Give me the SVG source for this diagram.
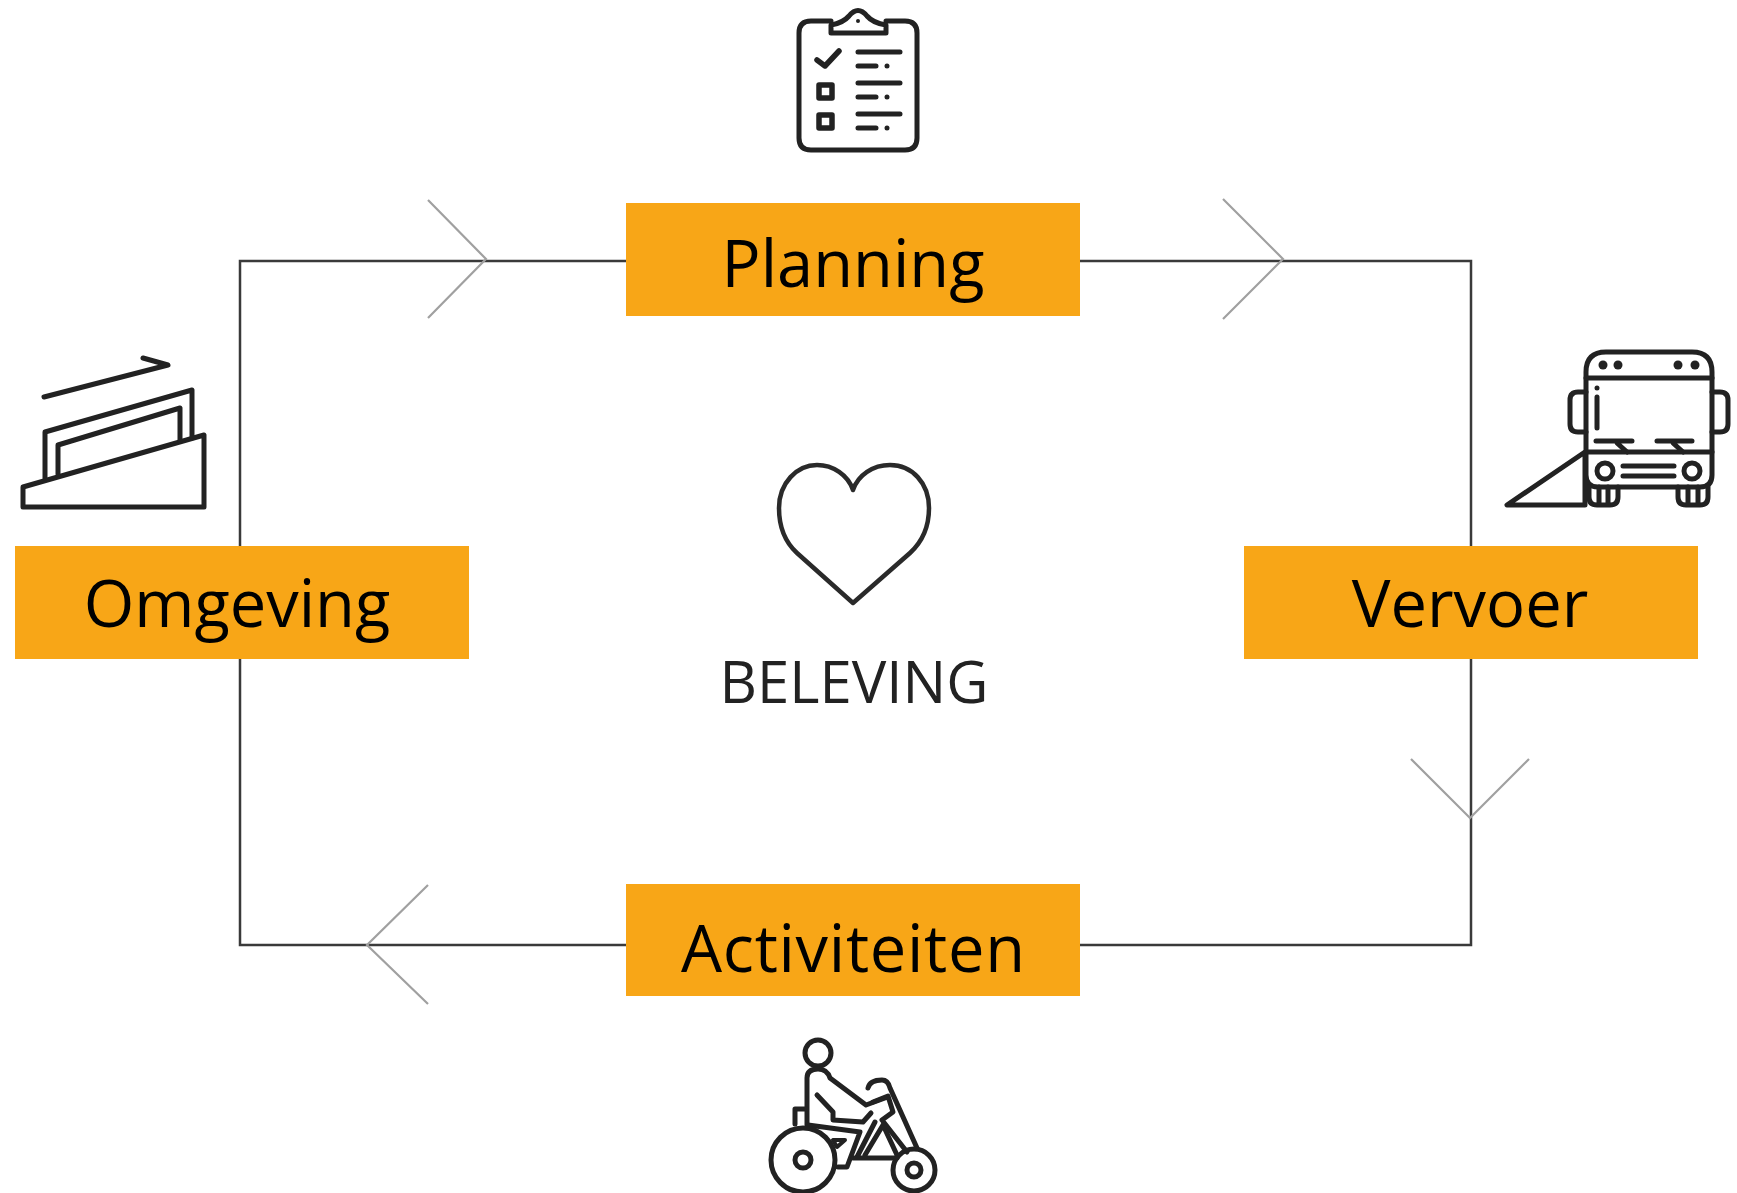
<svg xmlns="http://www.w3.org/2000/svg" width="1737" height="1193" viewBox="0 0 1737 1193">
<style>
.box{fill:#f8a617}
.lbl{font-family:"Open Sans","Noto Sans","Liberation Sans",sans-serif;font-size:65px;fill:#000;text-anchor:middle}
.conn{fill:none;stroke:#3a3a3a;stroke-width:2.5}
.head{fill:none;stroke:#a0a0a0;stroke-width:2.2}
.ic{fill:none;stroke:#222;stroke-width:5;stroke-linecap:round;stroke-linejoin:round}
.dot{fill:#222}
</style>
<rect width="1737" height="1193" fill="#fff"/>
<g id="connectors">
<path class="conn" d="M240 546V261H1471V945H240V659"/>
<path class="head" d="M428 200L486 259L428 318"/>
<path class="head" d="M1223 199L1283 259L1223 319"/>
<path class="head" d="M1411 759L1470 818L1529 759"/>
<path class="head" d="M428 885L367 945L428 1004"/>
</g>
<g id="planning">
<rect class="box" x="626" y="203" width="454" height="113"/>
<text class="lbl" x="853" y="287">Planning</text>
<g class="ic">
<path d="M831 21H811Q799 21 799 33V138Q799 150 811 150H905Q917 150 917 138V33Q917 21 905 21H886"/>
<path d="M831 33H886V25Q873 23 867 16Q858 5 849 16Q843 23 831 25Z"/>
<path d="M817 60L825 66L839 51" stroke-width="5.5"/>
<path d="M858 52H900M858 66H876M858 83H900M858 97H876M858 114H900M858 128H876" stroke-width="5"/>
<rect x="819" y="85" width="13" height="13" stroke-width="5.5"/>
<rect x="819" y="115" width="13" height="13" stroke-width="5.5"/>
</g>
<circle class="dot" cx="887" cy="66" r="2.5"/><circle class="dot" cx="887" cy="97" r="2.5"/><circle class="dot" cx="887" cy="128" r="2.5"/><circle class="dot" cx="858" cy="21" r="2"/>
</g>
<g id="omgeving">
<rect class="box" x="15" y="546" width="454" height="113"/>
<text class="lbl" x="237" y="627">Omgeving</text>
<g class="ic">
<path d="M44 397L168 365L143 358"/>
<path d="M23 487L204 435V507H23Z"/>
<path d="M45 478V432L192 390V438"/>
<path d="M58 474V445L180 408V441"/>
</g>
</g>
<g id="vervoer">
<rect class="box" x="1244" y="546" width="454" height="113"/>
<text class="lbl" x="1470" y="627">Vervoer</text>
<g class="ic">
<path d="M1586 372Q1586 352 1606 352H1692Q1712 352 1712 372V475Q1712 487 1700 487H1598Q1586 487 1586 475Z"/>
<path d="M1586 378H1712M1586 452H1712"/>
<path d="M1586 392H1578Q1570 392 1570 400V424Q1570 432 1578 432H1586M1712 392H1720Q1728 392 1728 400V424Q1728 432 1720 432H1712"/>
<path d="M1597 397V428"/>
<path d="M1596 441H1632M1617 443L1627 452M1657 441H1692M1673 443L1683 452"/>
<circle cx="1605" cy="471" r="8"/><circle cx="1692" cy="471" r="8"/>
<path d="M1623 466H1674M1623 476H1674"/>
<path d="M1589 487V497Q1589 505 1597 505H1610Q1618 505 1618 497V487M1599 487V504M1608 487V504"/>
<path d="M1678 487V497Q1678 505 1686 505H1700Q1708 505 1708 497V487M1688 487V504M1698 487V504"/>
<path d="M1585 452L1507 505H1585Z"/>
</g>
<circle class="dot" cx="1603" cy="365" r="4.5"/><circle class="dot" cx="1618" cy="365" r="4.5"/><circle class="dot" cx="1678" cy="365" r="4.5"/><circle class="dot" cx="1695" cy="365" r="4.5"/><circle class="dot" cx="1597" cy="388" r="2.5"/>
</g>
<g id="activiteiten">
<rect class="box" x="626" y="884" width="454" height="112"/>
<text class="lbl" x="853" y="972" textLength="344">Activiteiten</text>
<g class="ic">
<circle cx="818" cy="1053" r="13"/>
<path d="M807 1125V1078Q807 1069 818 1069Q827 1069 830 1078L866 1105L885 1098"/>
<path d="M817 1095L833 1112V1120L863 1122L871 1113"/>
<path d="M795 1124V1109H806M808 1125L860 1132L847 1167H838"/>
<path d="M833 1140H845L837 1147Z" stroke-width="4"/>
<path d="M868 1088Q870 1080 882 1080Q888 1080 890 1088L917 1148"/>
<path d="M873 1102L888 1096L893 1112L882 1120L907 1152"/>
<path d="M865 1155L883 1125L897 1155M853 1158H897M875 1122L857 1157"/>
<circle cx="803" cy="1160" r="32"/><circle cx="803" cy="1160" r="8"/>
<circle cx="914" cy="1170" r="21"/><circle cx="914" cy="1170" r="7"/>
</g>
</g>
<g id="beleving">
<path d="M853 603L797 553C785 542 779 527 779 508C779 483 797 465 817 465C833 465 848 475 853 490C858 475 873 465 890 465C912 465 929 483 929 508C929 527 922 542 910 553Z" fill="none" stroke="#2a2a2a" stroke-width="4.5" stroke-linejoin="round"/>
<text x="854" y="703" font-family="Open Sans, Noto Sans, sans-serif" font-size="58" fill="#222" text-anchor="middle">BELEVING</text>
</g>
</svg>
